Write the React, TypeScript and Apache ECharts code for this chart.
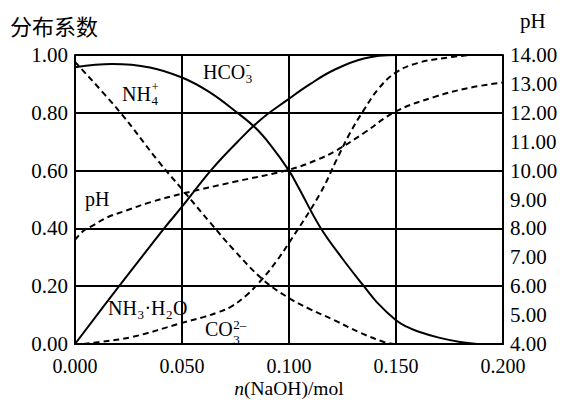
import React, { useEffect, useRef } from "react";
import * as echarts from "echarts";

// x: n(NaOH)/mol
const xTicks = [0, 0.05, 0.1, 0.15, 0.2];

// distribution fractions, [n(NaOH), fraction]
const nh4Data: [number, number][] = [
  [0, 0.958], [0.0174, 0.969], [0.035, 0.957], [0.05, 0.922], [0.0625, 0.873],
  [0.0759, 0.8], [0.0843, 0.748], [0.0912, 0.69], [0.1, 0.6], [0.1047, 0.538],
  [0.1145, 0.405], [0.125, 0.295], [0.135, 0.2], [0.141, 0.145], [0.15, 0.082],
  [0.155, 0.06], [0.16, 0.044], [0.17, 0.022], [0.18, 0.007], [0.188, 0],
];
const nh3Data: [number, number][] = [
  [0, 0], [0.0206, 0.2], [0.0422, 0.405], [0.05, 0.475], [0.064, 0.605],
  [0.076, 0.7], [0.087, 0.778], [0.0991, 0.844], [0.11, 0.9], [0.121, 0.948],
  [0.135, 0.988], [0.15, 1.0], [0.2, 1.0],
];
const hco3Data: [number, number][] = [
  [0, 0.976], [0.0206, 0.806], [0.039, 0.632], [0.0495, 0.54], [0.0633, 0.419],
  [0.0743, 0.325], [0.0875, 0.225], [0.0991, 0.163], [0.11, 0.12], [0.121, 0.083],
  [0.133, 0.04], [0.1444, 0.007], [0.149, 0],
];
const co3Data: [number, number][] = [
  [0.004, 0], [0.0115, 0.007], [0.0266, 0.024], [0.05, 0.073], [0.06, 0.093],
  [0.067, 0.11], [0.0727, 0.128], [0.08, 0.168], [0.0875, 0.225], [0.094, 0.285],
  [0.1, 0.35], [0.1145, 0.52], [0.1224, 0.64], [0.1285, 0.73], [0.135, 0.81],
  [0.142, 0.885], [0.15, 0.94], [0.16, 0.972], [0.173, 0.99], [0.185, 1.0],
];
// pH on right axis
const phData: [number, number][] = [
  [0, 7.6], [0.004, 7.92], [0.0083, 8.1], [0.015, 8.38], [0.024, 8.62], [0.035, 8.9],
  [0.05, 9.2], [0.075, 9.62], [0.1, 10.03], [0.113, 10.37], [0.1224, 10.71],
  [0.135, 11.3], [0.15, 12.05], [0.168, 12.55], [0.184, 12.86], [0.2, 13.05],
];

const leftTicks = [0, 0.2, 0.4, 0.6, 0.8, 1.0];
const rightTicks = [4, 5, 6, 7, 8, 9, 10, 11, 12, 13, 14];

const SERIF = "Liberation Serif, Times New Roman, serif";
const CJK = "Noto Sans CJK SC, sans-serif";

let ctx2d: CanvasRenderingContext2D | null = null;
function tw(t: string, size: number): number {
  if (!ctx2d) ctx2d = document.createElement("canvas").getContext("2d");
  if (!ctx2d) return t.length * size * 0.6;
  ctx2d.font = `${size}px 'Liberation Serif'`;
  return ctx2d.measureText(t).width;
}

function txt(x: number, y: number, s: string, size: number, family = SERIF): any {
  return {
    type: "text",
    x,
    y,
    silent: true,
    style: { text: s, fontSize: size, fontFamily: family, fill: "#000", align: "left", verticalAlign: "middle" },
  };
}

type Tok = { n?: string; sub?: string; sup?: string };
function chem(x: number, y: number, toks: Tok[], fs = 20, subOff = 7, supOff = -7): any[] {
  const els: any[] = [];
  let cx = x;
  const ss = 13;
  for (const tk of toks) {
    if (tk.n) {
      els.push(txt(cx, y, tk.n, fs));
      cx += tw(tk.n, fs);
    }
    let adv = 0;
    if (tk.sub) {
      els.push(txt(cx + 0.5, y + subOff, tk.sub, ss));
      adv = Math.max(adv, tw(tk.sub, ss));
    }
    if (tk.sup) {
      els.push(txt(cx + 0.5, y + supOff, tk.sup, ss));
      adv = Math.max(adv, tw(tk.sup, ss));
    }
    if (adv) cx += adv + 1;
  }
  return els;
}

export default function App() {
  const ref = useRef<HTMLDivElement>(null);
  useEffect(() => {
    if (!ref.current) return;
    const chart = echarts.init(ref.current, undefined, { renderer: "svg" });
    const axisLine = { show: true, onZero: false, lineStyle: { color: "#000", width: 2 } };
    const split = { show: true, lineStyle: { color: "#000", width: 2 } };
    const lbl = { color: "#000", fontFamily: SERIF, fontSize: 21, lineHeight: 16 };
    const solid = { color: "#000", width: 2, type: "solid" as const };
    const dashed = { color: "#000", width: 2, type: [6, 4] as number[] };
    const base = { type: "line", symbol: "none", smooth: 0.4, silent: true };

    const graphics: any[] = [
      txt(10, 25, "分布系数", 22, CJK),
      txt(520, 21, "pH", 21),
      {
        type: "text",
        x: 289,
        y: 388,
        silent: true,
        style: {
          text: "{i|n}(NaOH)/mol",
          fontSize: 19.5,
          fontFamily: SERIF,
          fill: "#000",
          align: "center",
          verticalAlign: "middle",
          rich: { i: { fontStyle: "italic", fontSize: 19.5, fontFamily: SERIF, fill: "#000" } },
        },
      },
      ...chem(203, 71.5, [{ n: "HCO", sub: "3", sup: "-" }]),
      ...chem(122, 93.5, [{ n: "NH", sub: "4", sup: "+" }]),
      txt(85, 199, "pH", 20),
      ...chem(108, 307.5, [{ n: "NH", sub: "3" }, { n: "·H", sub: "2" }, { n: "O" }]),
      ...chem(205, 328.5, [{ n: "CO", sub: "3", sup: "2–" }], 20, 11, -4),
    ];

    chart.setOption({
      animation: false,
      backgroundColor: "#fff",
      grid: { left: 75, right: 60, top: 55, bottom: 56, containLabel: false },
      xAxis: {
        type: "value",
        min: xTicks[0],
        max: xTicks[xTicks.length - 1],
        interval: xTicks[1] - xTicks[0],
        axisLine,
        axisTick: { show: false },
        axisLabel: { ...lbl, fontSize: 20, margin: 14, formatter: (v: number) => v.toFixed(3) },
        splitLine: split,
      },
      yAxis: [
        {
          type: "value",
          position: "left",
          min: leftTicks[0],
          max: leftTicks[leftTicks.length - 1],
          interval: leftTicks[1] - leftTicks[0],
          axisLine,
          axisTick: { show: false },
          axisLabel: { ...lbl, margin: 7, formatter: (v: number) => v.toFixed(2) },
          splitLine: split,
        },
        {
          type: "value",
          position: "right",
          min: rightTicks[0],
          max: rightTicks[rightTicks.length - 1],
          interval: rightTicks[1] - rightTicks[0],
          axisLine,
          axisTick: { show: false },
          axisLabel: { ...lbl, margin: 7, formatter: (v: number) => v.toFixed(2) },
          splitLine: { show: false },
        },
      ],
      series: [
        { ...base, name: "NH4+", data: nh4Data, lineStyle: solid },
        { ...base, name: "NH3·H2O", data: nh3Data, lineStyle: solid },
        { ...base, name: "HCO3-", data: hco3Data, lineStyle: dashed },
        { ...base, name: "CO32-", data: co3Data, lineStyle: dashed },
        { ...base, name: "pH", data: phData, yAxisIndex: 1, lineStyle: dashed },
      ],
      graphic: graphics,
    });
    return () => chart.dispose();
  }, []);
  return <div ref={ref} style={{ width: 563, height: 400, position: "absolute", left: 0, top: 0 }} />;
}
